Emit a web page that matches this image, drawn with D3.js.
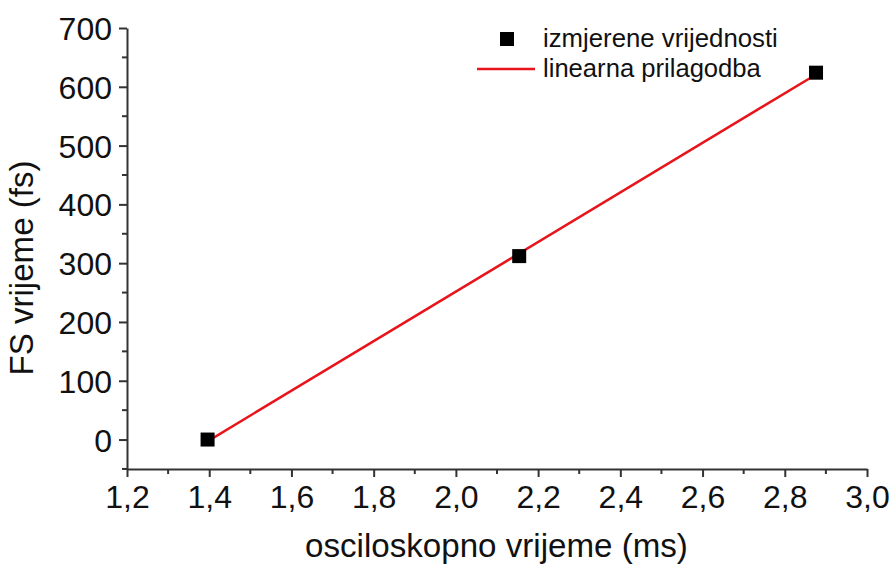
<!DOCTYPE html>
<html><head><meta charset="utf-8">
<script src="https://cdn.jsdelivr.net/npm/d3@7"></script>
<style>body{margin:0;background:#fff}text{font-family:"Liberation Sans",Arial,sans-serif;fill:#111}</style>
</head><body><svg id="c" width="894" height="572"></svg>
<script>
const xValues = [1.396, 2.154, 2.876];
const yValues = [0, 312, 624];
const fitX = [1.396, 2.876];
const fitY = [-3, 621];
const xTicks = [1.2, 1.4, 1.6, 1.8, 2.0, 2.2, 2.4, 2.6, 2.8, 3.0];
const yTicks = [0, 100, 200, 300, 400, 500, 600, 700];
const legendLabels = ["izmjerene vrijednosti", "linearna prilagodba"];
const xTitle = "osciloskopno vrijeme (ms)";
const yTitle = "FS vrijeme (fs)";

const svg = d3.select("#c");
const L = 127, R = 867, T = 28, B = 469;
const x = d3.scaleLinear().domain([1.2, 3.0]).range([L, R]);
const y = d3.scaleLinear().domain([-50.1, 700]).range([B, T]);
const axisColor = "#333";
const fmt = d => d.toFixed(1).replace(".", ",");

const xMinor = d3.range(1.3, 3.0, 0.2);
const yMinor = [-50, 50, 150, 250, 350, 450, 550, 650];

const gx = svg.append("g").attr("transform", `translate(0,${B})`)
  .call(d3.axisBottom(x).tickValues(xTicks).tickFormat(fmt).tickSize(8).tickSizeOuter(0));
gx.selectAll("text").attr("font-size", 32).attr("dy", "0.76em").attr("y", 15);
gx.append("g").selectAll("line").data(xMinor).join("line")
  .attr("x1", d => x(d)).attr("x2", d => x(d)).attr("y1", 0).attr("y2", 5);

const gy = svg.append("g").attr("transform", `translate(${L},0)`)
  .call(d3.axisLeft(y).tickValues(yTicks).tickFormat(d3.format("d")).tickSize(8).tickSizeOuter(0));
gy.selectAll("text").attr("font-size", 32).attr("x", -15).attr("dy", "0.36em");
gy.append("g").selectAll("line").data(yMinor).join("line")
  .attr("y1", d => y(d)).attr("y2", d => y(d)).attr("x1", 0).attr("x2", -5);

svg.selectAll(".domain").attr("stroke", axisColor).attr("stroke-width", 2);
svg.selectAll(".tick line").attr("stroke", axisColor).attr("stroke-width", 2);
svg.selectAll("g g line").attr("stroke", axisColor).attr("stroke-width", 2);
svg.selectAll(".tick text").attr("fill", "#111");

svg.append("line").attr("x1", L - 3).attr("x2", L).attr("y1", B).attr("y2", B).attr("stroke", axisColor).attr("stroke-width", 2);

svg.append("line").attr("x1", x(fitX[0])).attr("y1", y(fitY[0])).attr("x2", x(fitX[1])).attr("y2", y(fitY[1]))
  .attr("stroke", "#e8141b").attr("stroke-width", 2.5);

const s = 14;
svg.selectAll("rect.pt").data(xValues).join("rect").attr("class", "pt")
  .attr("x", (d) => x(d) - s / 2).attr("y", (d, i) => y(yValues[i]) - s / 2)
  .attr("width", s).attr("height", s).attr("fill", "#000");

function fit(sel, w) {
  const n = sel.node(); const fs = +sel.attr("font-size");
  const cw = n.getComputedTextLength();
  sel.attr("font-size", fs * w / cw);
}

svg.append("rect").attr("x", 507 - 7).attr("y", 39 - 7).attr("width", 14).attr("height", 14).attr("fill", "#000");
svg.append("line").attr("x1", 477).attr("x2", 535).attr("y1", 69).attr("y2", 69).attr("stroke", "#e8141b").attr("stroke-width", 2.5);
const l1 = svg.append("text").attr("x", 543).attr("y", 47).attr("font-size", 22).text(legendLabels[0]);
fit(l1, 235);
const l2 = svg.append("text").attr("x", 543).attr("y", 77).attr("font-size", 22).text(legendLabels[1]);
fit(l2, 218);

const xt = svg.append("text").attr("x", 305).attr("y", 557).attr("font-size", 28).text(xTitle);
fit(xt, 383);
const yt = svg.append("text").attr("transform", "translate(33,268) rotate(-90)").attr("text-anchor", "middle").attr("font-size", 28).text(yTitle);
fit(yt, 215);
</script></body></html>
